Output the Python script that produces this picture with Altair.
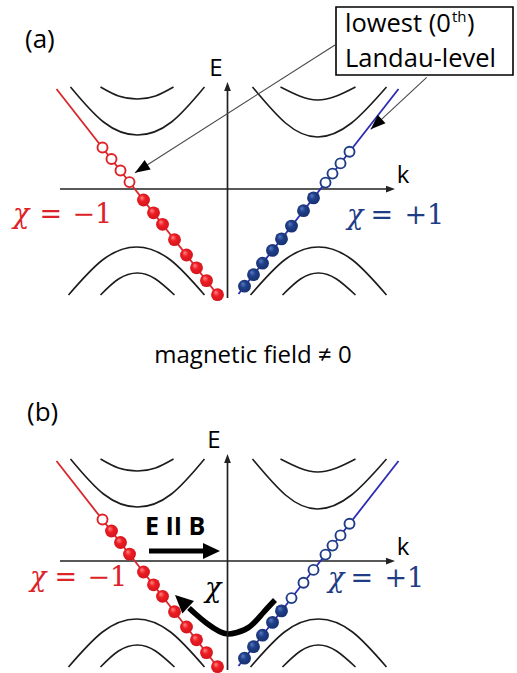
import altair as alt
import pandas as pd

# Landau levels of a Weyl semimetal in a magnetic field: two Weyl nodes
# (chirality -1 in red, +1 in blue), higher Landau levels as black branches,
# the chiral 0th level as a straight line carrying occupied (filled) and
# empty (open) states.  Panel (b): E parallel to B pumps states from the
# +1 node to the -1 node.

RED = "#dd2228"
RED_LINE = "#d8262b"
BLUE = "#1f3c86"
BLUE_LINE = "#2b2bb5"
INK = "#1c1c1c"

# ---- higher Landau-level branches (k, E), identical in both panels ----
band_name = ["c2L", "c1L", "c2R", "c1R", "v2L", "v1L", "v2R", "v1R"]
band_k = [
    [-15.7, -12.4, -9.0, -5.6, -2.3],
    [-12.7, -10.9, -9.0, -7.2, -5.4],
    [2.5, 5.8, 9.0, 12.4, 15.9],
    [5.3, 7.2, 9.0, 10.9, 12.8],
    [-15.9, -12.5, -9.1, -5.7, -2.3],
    [-12.7, -10.9, -9.0, -7.2, -5.3],
    [2.3, 5.7, 9.1, 12.5, 15.9],
    [5.5, 7.3, 9.1, 10.9, 12.8],
]
band_E = [
    [10.2, 6.7, 5.4, 6.7, 10.2],
    [10.2, 9.3, 9.0, 9.3, 10.2],
    [10.2, 6.6, 5.2, 6.6, 10.2],
    [10.2, 9.3, 8.9, 9.3, 10.2],
    [-10.6, -7.1, -5.8, -7.1, -10.6],
    [-10.6, -9.0, -8.4, -9.0, -10.6],
    [-10.6, -7.1, -5.8, -7.1, -10.6],
    [-10.6, -9.0, -8.4, -9.0, -10.6],
]

# ---- chiral 0th Landau level: line ends and the states on it ----
red_line_k = [-17.1, -0.9]
red_line_E = [10.0, -10.7]
blue_line_k = [1.1, 17.1]
blue_line_E = [-10.5, 10.0]

red_state_k = [-12.5, -11.6, -10.7, -9.8, -8.4, -7.4, -6.5, -5.3, -4.1, -3.1, -2.1, -1.0]
red_state_E = [4.15, 3.0, 1.85, 0.69, -1.10, -2.38, -3.53, -5.07, -6.60, -7.88, -9.16, -10.57]
blue_state_k = [1.7, 2.6, 3.5, 4.5, 5.4, 6.4, 7.6, 8.6, 9.8, 10.5, 11.3, 12.2]
blue_state_E = [-9.72, -8.57, -7.42, -6.14, -4.99, -3.71, -2.17, -0.89, 0.64, 1.54, 2.56, 3.72]

# occupation (1 = filled) without and with E || B
occ_a_red = [0, 0, 0, 0, 1, 1, 1, 1, 1, 1, 1, 1]
occ_a_blue = [1, 1, 1, 1, 1, 1, 1, 1, 0, 0, 0, 0]
occ_b_red = [0, 1, 1, 1, 1, 1, 1, 1, 1, 1, 1, 1]
occ_b_blue = [1, 1, 1, 1, 1, 0, 0, 0, 0, 0, 0, 0]

# ---- axes ----
k_axis = [-16.75, 16.0]
E_axis = [-10.9, 10.0]
k_tip = 16.75
E_tip = 10.7

# ---- annotation of panel (a) ----
note_box_k = [10.85, 28.55]
note_box_E = [18.2, 11.4]
note_from_k = [10.75, 19.92]
note_from_E = [14.4, 11.17]
note_tip_k = [-9.25, 14.32]
note_tip_E = [1.63, 5.97]
note_tip_angle = [237.5, 227.0]

# ---- pumping arrows of panel (b) ----
push_shaft_k = [-7.85, -2.3]
push_E = 1.0
push_tip_k = -0.75
pump_k = [4.75, 3.55, 2.25, 0.95, 0.05, -0.8, -2.05, -3.25, -3.85]
pump_E = [-3.9, -5.2, -6.55, -7.15, -7.3, -7.05, -6.25, -5.25, -4.7]
pump_tip = (-5.25, -3.4, 313.0)

k_range = [-22.75, 28.95]
E_range_a = [-19.1, 18.9]
E_range_b = [-11.2, 18.1]

SLIM_HEAD = "M0,0L0.75,2L-0.75,2Z"
WIDE_HEAD = "M0,0L0.95,2L-0.95,2Z"

RED_FILL = {"gradient": "radial", "x1": 0.35, "y1": 0.3, "r1": 0.0,
            "x2": 0.5, "y2": 0.5, "r2": 0.6,
            "stops": [{"offset": 0.0, "color": "#ff8c8c"},
                      {"offset": 0.4, "color": "#ee1c23"},
                      {"offset": 1.0, "color": "#cc141b"}]}
BLUE_FILL = {"gradient": "radial", "x1": 0.35, "y1": 0.3, "r1": 0.0,
             "x2": 0.5, "y2": 0.5, "r2": 0.6,
             "stops": [{"offset": 0.0, "color": "#5f7cc4"},
                       {"offset": 0.4, "color": "#1f3f8a"},
                       {"offset": 1.0, "color": "#152d68"}]}

SANS = "Open Sans"
SERIF = "DejaVu Serif"


def scales(E_range):
    xs = alt.Scale(domain=k_range, nice=False, zero=False)
    ys = alt.Scale(domain=E_range, nice=False, zero=False)
    return (lambda f: alt.X(f, type="quantitative", scale=xs, axis=None),
            lambda f: alt.Y(f, type="quantitative", scale=ys, axis=None))


def panel(E_range, occ_red, occ_blue, rules_extra, heads, texts, lines_extra,
          height, boxes=None):
    X, Y = scales(E_range)

    band_rows = []
    for name, ks, Es in zip(band_name, band_k, band_E):
        for i, (k, E) in enumerate(zip(ks, Es)):
            band_rows.append({"id": name, "i": i, "k": k, "E": E})
    bands = pd.DataFrame(band_rows)
    layers = [
        alt.Chart(bands).mark_line(color=INK, strokeWidth=1.6, interpolate="natural")
        .encode(x=X("k"), y=Y("E"), detail="id:N", order="i:Q")
    ]

    thick_rows = []
    for j, (ks, Es) in enumerate(lines_extra):
        for i, (k, E) in enumerate(zip(ks, Es)):
            thick_rows.append({"id": f"x{j}", "i": i, "k": k, "E": E})
    if thick_rows:
        layers.append(
            alt.Chart(pd.DataFrame(thick_rows))
            .mark_line(color="black", strokeWidth=5.5, interpolate="natural", strokeCap="butt")
            .encode(x=X("k"), y=Y("E"), detail="id:N", order="i:Q"))

    rules = pd.DataFrame(
        [{"k1": k_axis[0], "k2": k_axis[1], "E1": 0.0, "E2": 0.0, "c": "#222222", "w": 1.7},
         {"k1": 0.0, "k2": 0.0, "E1": E_axis[0], "E2": E_axis[1], "c": "#222222", "w": 1.7},
         {"k1": red_line_k[0], "k2": red_line_k[1], "E1": red_line_E[0], "E2": red_line_E[1],
          "c": RED_LINE, "w": 1.8},
         {"k1": blue_line_k[0], "k2": blue_line_k[1], "E1": blue_line_E[0], "E2": blue_line_E[1],
          "c": BLUE_LINE, "w": 1.8}] + rules_extra)
    layers.append(
        alt.Chart(rules).mark_rule(strokeCap="butt")
        .encode(x=X("k1"), x2="k2", y=Y("E1"), y2="E2",
                color=alt.Color("c:N", scale=None),
                strokeWidth=alt.StrokeWidth("w:Q", scale=None)))

    for shape, rows in heads.items():
        layers.append(
            alt.Chart(pd.DataFrame(rows)).mark_point(shape=shape, filled=True, opacity=1,
                                                     strokeWidth=0)
            .encode(x=X("k"), y=Y("E"),
                    angle=alt.Angle("a:Q", scale=None),
                    size=alt.Size("s:Q", scale=None),
                    color=alt.Color("c:N", scale=None)))

    states = pd.DataFrame(
        [{"k": k, "E": E, "occ": o, "side": "red"}
         for k, E, o in zip(red_state_k, red_state_E, occ_red)] +
        [{"k": k, "E": E, "occ": o, "side": "blue"}
         for k, E, o in zip(blue_state_k, blue_state_E, occ_blue)])
    for side, edge, fill in (("red", RED, RED_FILL), ("blue", BLUE, BLUE_FILL)):
        sub = states[states.side == side]
        layers.append(
            alt.Chart(sub[sub.occ == 0]).mark_point(shape="circle", filled=True, fill="white",
                                                    stroke=edge, strokeWidth=1.9,
                                                    size=100, opacity=1)
            .encode(x=X("k"), y=Y("E")))
        layers.append(
            alt.Chart(sub[sub.occ == 1]).mark_point(shape="circle", filled=True, fill=fill,
                                                    strokeWidth=0, size=165, opacity=1)
            .encode(x=X("k"), y=Y("E")))

    if boxes is not None:
        layers.append(
            alt.Chart(boxes).mark_rect(fill="white", stroke="black", strokeWidth=1.6)
            .encode(x=X("k1"), x2="k2", y=Y("E1"), y2="E2"))

    for style, rows in texts.items():
        font, weight, italic, align = style
        kw = dict(font=font, fontWeight=weight, align=align, baseline="alphabetic")
        if italic:
            kw["fontStyle"] = "italic"
        layers.append(
            alt.Chart(pd.DataFrame(rows)).mark_text(**kw)
            .encode(x=X("k"), y=Y("E"), text="t:N",
                    size=alt.Size("s:Q", scale=None),
                    color=alt.Color("c:N", scale=None)))

    return alt.layer(*layers).properties(width=517, height=height)


# panel (a): magnetic field only
heads_a = {
    SLIM_HEAD: [
        {"k": 0.0, "E": E_tip, "a": 0, "s": 81, "c": "#222222"},
        {"k": k_tip, "E": 0.0, "a": 90, "s": 81, "c": "#222222"},
        {"k": note_tip_k[0], "E": note_tip_E[0], "a": note_tip_angle[0], "s": 225, "c": "black"},
        {"k": note_tip_k[1], "E": note_tip_E[1], "a": note_tip_angle[1], "s": 225, "c": "black"},
    ]
}
rules_a = [
    {"k1": note_from_k[0], "k2": note_tip_k[0], "E1": note_from_E[0], "E2": note_tip_E[0],
     "c": "#4a4a4a", "w": 1.1},
    {"k1": note_from_k[1], "k2": note_tip_k[1], "E1": note_from_E[1], "E2": note_tip_E[1],
     "c": "#4a4a4a", "w": 1.1},
]
texts_a = {
    (SANS, "normal", False, "left"): [
        {"t": "(a)", "k": -20.25, "E": 14.1, "s": 26, "c": "black"},
        {"t": "lowest (0", "k": 11.75, "E": 15.7, "s": 25.5, "c": "black"},
        {"t": "th", "k": 22.45, "E": 16.7, "s": 15, "c": "black"},
        {"t": ")", "k": 23.95, "E": 15.7, "s": 25.5, "c": "black"},
        {"t": "Landau-level", "k": 11.75, "E": 12.2, "s": 25.5, "c": "black"},
    ],
    (SANS, "normal", False, "center"): [
        {"t": "E", "k": -1.15, "E": 11.3, "s": 24, "c": "black"},
        {"t": "k", "k": 17.55, "E": 0.6, "s": 24, "c": "black"},
        {"t": "magnetic field \u2260 0", "k": 2.55, "E": -17.4, "s": 24, "c": "black"},
    ],
    (SERIF, "normal", True, "left"): [
        {"t": "\u03c7", "k": -21.45, "E": -3.4, "s": 27, "c": RED},
        {"t": "\u03c7", "k": 11.95, "E": -3.5, "s": 27, "c": BLUE},
    ],
    (SERIF, "normal", False, "left"): [
        {"t": "=", "k": -18.8, "E": -3.4, "s": 27, "c": RED},
        {"t": "\u22121", "k": -15.5, "E": -3.4, "s": 27, "c": RED},
        {"t": "=", "k": 14.29, "E": -3.5, "s": 27, "c": BLUE},
        {"t": "+1", "k": 17.69, "E": -3.5, "s": 27, "c": BLUE},
    ],
}
box_a = pd.DataFrame({"k1": [note_box_k[0]], "k2": [note_box_k[1]],
                      "E1": [note_box_E[0]], "E2": [note_box_E[1]]})

top = panel(E_range_a, occ_a_red, occ_a_blue, rules_a, heads_a, texts_a, [], 380,
            boxes=box_a)

# panel (b): E parallel to B
heads_b = {
    SLIM_HEAD: [
        {"k": 0.0, "E": E_tip, "a": 0, "s": 81, "c": "#222222"},
        {"k": k_tip, "E": 0.0, "a": 90, "s": 81, "c": "#222222"},
    ],
    WIDE_HEAD: [
        {"k": push_tip_k, "E": push_E, "a": 90, "s": 289, "c": "black"},
        {"k": pump_tip[0], "E": pump_tip[1], "a": pump_tip[2], "s": 324, "c": "black"},
    ],
}
rules_b = [
    {"k1": push_shaft_k[0], "k2": push_shaft_k[1], "E1": push_E, "E2": push_E,
     "c": "black", "w": 5},
]
texts_b = {
    (SANS, "normal", False, "left"): [
        {"t": "(b)", "k": -20.05, "E": 14.0, "s": 26, "c": "black"},
    ],
    (SANS, "normal", False, "center"): [
        {"t": "E", "k": -1.35, "E": 11.3, "s": 24, "c": "black"},
        {"t": "k", "k": 17.55, "E": 0.6, "s": 24, "c": "black"},
    ],
    (SANS, "bold", False, "left"): [
        {"t": "E II B", "k": -8.25, "E": 2.6, "s": 25, "c": "black"},
    ],
    (SERIF, "normal", True, "left"): [
        {"t": "\u03c7", "k": -19.75, "E": -2.5, "s": 27, "c": RED},
        {"t": "\u03c7", "k": 10.05, "E": -2.6, "s": 27, "c": BLUE},
        {"t": "\u03c7", "k": -2.25, "E": -3.6, "s": 27, "c": "black"},
    ],
    (SERIF, "normal", False, "left"): [
        {"t": "=", "k": -17.31, "E": -2.5, "s": 27, "c": RED},
        {"t": "\u22121", "k": -14.01, "E": -2.5, "s": 27, "c": RED},
        {"t": "=", "k": 12.29, "E": -2.6, "s": 27, "c": BLUE},
        {"t": "+1", "k": 15.69, "E": -2.6, "s": 27, "c": BLUE},
    ],
}
bottom = panel(E_range_b, occ_b_red, occ_b_blue, rules_b, heads_b, texts_b,
               [(pump_k, pump_E)], 293)

chart = (
    alt.vconcat(top, bottom, spacing=0)
    .properties(padding=0, background="white")
    .configure_view(stroke=None)
)

chart.save("out.html", embed_options={"renderer": "svg", "actions": False})
